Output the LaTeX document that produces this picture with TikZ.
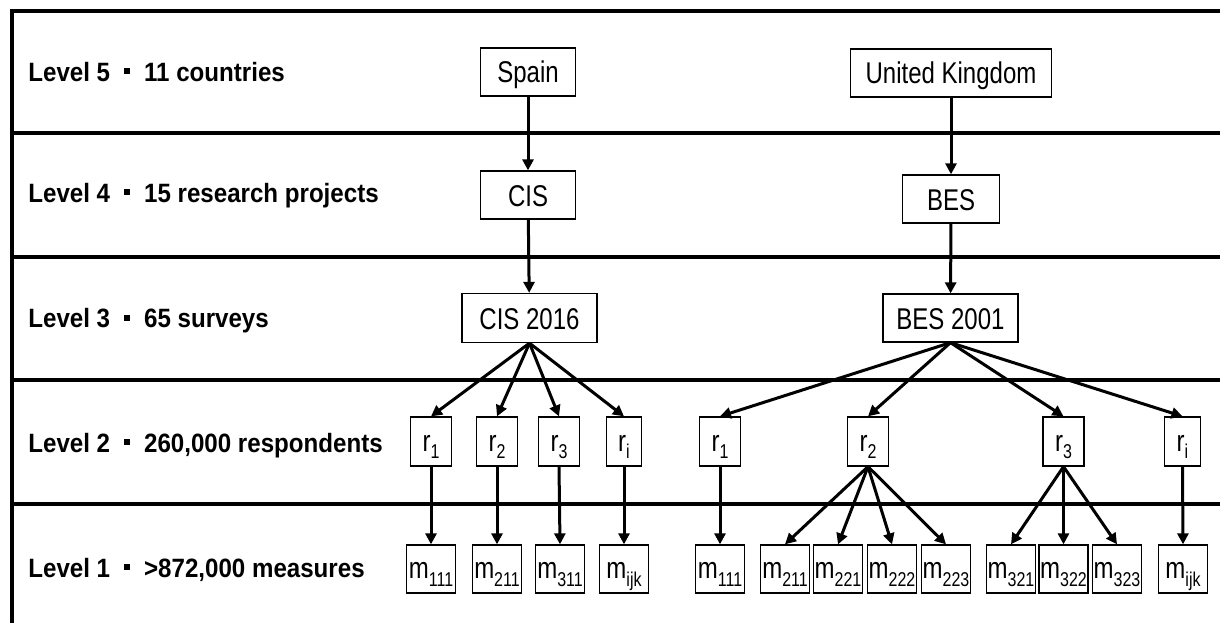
\documentclass[tikz,border=0pt]{standalone}
\usepackage{fontspec}
\setmainfont{Liberation Sans}
\newfontfamily\narrowfont[FakeStretch=0.8]{Liberation Sans}
\newfontfamily\lvlfont[FakeStretch=0.91]{Liberation Sans}
\usetikzlibrary{arrows.meta}

\newcommand{\lowsub}[1]{\raisebox{-7.5pt}{\fontsize{20}{20}\selectfont #1}}
\newcommand{\lvlsep}{\hspace{14pt}\rule[7pt]{6pt}{6pt}\hspace{14pt}}

\tikzset{every picture/.style={line width=0.75pt}}
\tikzset{
  framerule/.style={line width=3.2pt},
  lvltext/.style={anchor=base west,inner sep=0pt,font=\lvlfont\fontsize{26.5}{30}\selectfont\bfseries},
  unitbox/.style={draw,line width=1.3pt,inner sep=0pt,font=\narrowfont\fontsize{30}{32}\selectfont,
    text height=23pt,text depth=1pt,minimum height=48pt},
  rbox/.style={unitbox,inner xsep=12pt,minimum height=49pt,text height=21pt,text depth=2pt},
  mbox/.style={unitbox,minimum width=49pt,text height=21pt,text depth=2pt},
  link/.style={line width=3pt,-{Triangle[length=11pt,width=11pt]}}
}

\begin{document}
\begin{tikzpicture}[x=1pt,y=1pt,yscale=-1,xscale=1]
\useasboundingbox (0,0) rectangle (1220,623);

%Straight Lines (frame)
\draw [framerule] (1220,11) -- (12,11) -- (12,623) ;
\draw [framerule] (12,133) -- (1220,133) ;
\draw [framerule] (12,257) -- (1220,257) ;
\draw [framerule] (12,380) -- (1220,380) ;
\draw [framerule] (12,504) -- (1220,504) ;

% Text Node
\node (lvl5) at (28,81.5) [lvltext] {Level 5\lvlsep 11 countries};
% Text Node
\node (lvl4) at (28,202) [lvltext] {Level 4\lvlsep 15 research projects};
% Text Node
\node (lvl3) at (28,327.5) [lvltext] {Level 3\lvlsep 65 surveys};
% Text Node
\node (lvl2) at (28,452) [lvltext] {Level 2\lvlsep 260,000 respondents};
% Text Node
\node (lvl1) at (28,577) [lvltext] {Level 1\lvlsep >872,000 measures};

%Shape: Rectangle (countries)
\node (spain) at (528,72) [unitbox,minimum width=95pt] {Spain};
\node (uk) at (951,73) [unitbox,inner xsep=15pt] {United Kingdom};
%Shape: Rectangle (projects)
\node (cis) at (528,195) [unitbox,minimum width=95pt] {CIS};
\node (bes) at (951,199) [unitbox,minimum width=97pt] {BES};
%Shape: Rectangle (surveys)
\node (cis16) at (529.5,318) [unitbox,minimum width=135pt,minimum height=49pt] {CIS 2016};
\node (bes01) at (950.5,318) [unitbox,minimum width=135pt] {BES 2001};

%Shape: Rectangle (respondents)
\node (esr1) at (431,441.5) [rbox] {r\lowsub{1}};
\node (esr2) at (497,441.5) [rbox] {r\lowsub{2}};
\node (esr3) at (559,441.5) [rbox] {r\lowsub{3}};
\node (esri) at (624,441.5) [rbox] {r\lowsub{i}};
\node (ukr1) at (720,441.5) [rbox] {r\lowsub{1}};
\node (ukr2) at (868,441.5) [rbox] {r\lowsub{2}};
\node (ukr3) at (1063.5,441.5) [rbox] {r\lowsub{3}};
\node (ukri) at (1182.5,441.5) [rbox] {r\lowsub{i}};

%Shape: Rectangle (measures)
\node (esm111) at (431,569) [mbox] {m\lowsub{111}};
\node (esm211) at (497,569) [mbox] {m\lowsub{211}};
\node (esm311) at (560,569) [mbox] {m\lowsub{311}};
\node (esmijk) at (624,569) [mbox] {m\lowsub{ijk}};
\node (ukm111) at (720,569) [mbox] {m\lowsub{111}};
\node (ukm211) at (785,569) [mbox] {m\lowsub{211}};
\node (ukm221) at (838,569) [mbox] {m\lowsub{221}};
\node (ukm222) at (892,569) [mbox] {m\lowsub{222}};
\node (ukm223) at (946,569) [mbox] {m\lowsub{223}};
\node (ukm321) at (1011,569) [mbox] {m\lowsub{321}};
\node (ukm322) at (1063.5,569) [mbox] {m\lowsub{322}};
\node (ukm323) at (1117,569) [mbox] {m\lowsub{323}};
\node (ukmijk) at (1183,569) [mbox] {m\lowsub{ijk}};

%Straight Lines (arrows)
\draw [link] (spain) -- (cis) ;
\draw [link] (uk) -- (bes) ;
\draw [link] (cis) -- (cis16) ;
\draw [link] (bes) -- (bes01) ;

\draw [link] (cis16.south) -- (esr1.north) ;
\draw [link] (cis16.south) -- (esr2.north) ;
\draw [link] (cis16.south) -- (esr3.north) ;
\draw [link] (cis16.south) -- (esri.north) ;
\draw [link] (bes01.south) -- (ukr1.north) ;
\draw [link] (bes01.south) -- (ukr2.north) ;
\draw [link] (bes01.south) -- (ukr3.north) ;
\draw [link] (bes01.south) -- (ukri.north) ;

\draw [link] (esr1.south) -- (esm111.north) ;
\draw [link] (esr2.south) -- (esm211.north) ;
\draw [link] (esr3.south) -- (esm311.north) ;
\draw [link] (esri.south) -- (esmijk.north) ;
\draw [link] (ukr1.south) -- (ukm111.north) ;
\draw [link] (ukr2.south) -- (ukm211.north) ;
\draw [link] (ukr2.south) -- (ukm221.north) ;
\draw [link] (ukr2.south) -- (ukm222.north) ;
\draw [link] (ukr2.south) -- (ukm223.north) ;
\draw [link] (ukr3.south) -- (ukm321.north) ;
\draw [link] (ukr3.south) -- (ukm322.north) ;
\draw [link] (ukr3.south) -- (ukm323.north) ;
\draw [link] (ukri.south) -- (ukmijk.north) ;

\end{tikzpicture}
\end{document}
